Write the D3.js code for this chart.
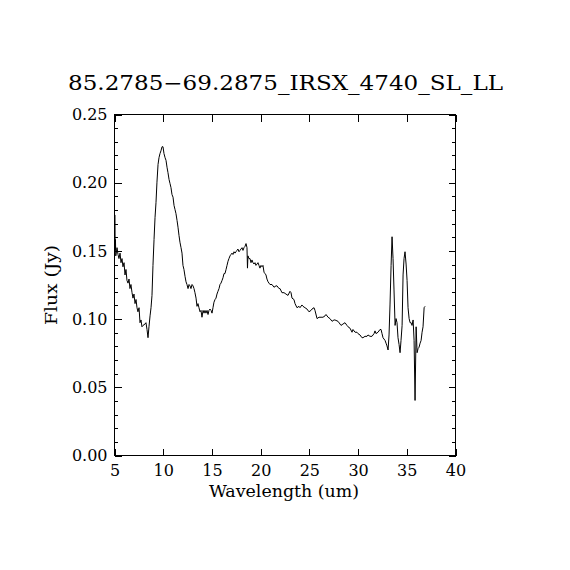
<!DOCTYPE html>
<html>
<head>
<meta charset="utf-8">
<script src="https://cdn.jsdelivr.net/npm/d3@7"></script>
<style>
html,body{margin:0;padding:0;background:#fff;}
svg{display:block;}
text{font-family:"DejaVu Serif","Liberation Serif",serif;fill:#000;}
</style>
</head>
<body>
<svg id="chart" width="570" height="570"></svg>
<script>
const title = "85.2785\u221269.2875_IRSX_4740_SL_LL";
const xLabel = "Wavelength (um)";
const yLabel = "Flux (Jy)";
const xTicks = [5, 10, 15, 20, 25, 30, 35, 40];
const yTicks = [0.00, 0.05, 0.10, 0.15, 0.20, 0.25];

const wavelength = [5.10,5.12,5.15,5.18,5.23,5.31,5.41,5.51,5.62,5.72,5.82,5.92,6.03,6.13,6.23,6.33,6.44,6.54,6.64,6.74,6.85,6.95,7.05,7.16,7.26,7.36,7.46,7.57,7.67,7.77,7.87,7.98,8.18,8.28,8.39,8.49,8.59,8.70,8.80,8.90,9.00,9.11,9.21,9.31,9.41,9.52,9.62,9.72,9.82,9.93,10.03,10.13,10.24,10.34,10.44,10.54,10.65,10.75,10.85,10.95,11.06,11.16,11.26,11.36,11.47,11.57,11.67,11.77,11.88,11.98,12.08,12.18,12.29,12.39,12.49,12.60,12.70,12.80,12.90,13.01,13.11,13.21,13.31,13.42,13.52,13.62,13.72,13.83,13.93,14.03,14.14,14.24,14.34,14.44,14.55,14.65,14.75,14.85,14.96,15.06,15.16,15.26,15.37,15.47,15.57,15.67,15.78,15.88,15.98,16.09,16.19,16.29,16.39,16.50,16.60,16.70,16.80,16.91,17.01,17.11,17.21,17.32,17.42,17.52,17.62,17.72,17.83,17.93,18.03,18.14,18.24,18.34,18.45,18.55,18.65,18.70,18.75,18.85,18.96,19.06,19.16,19.27,19.37,19.47,19.57,19.68,19.78,19.88,19.98,20.09,20.19,20.29,20.40,20.50,20.60,20.70,20.81,20.91,21.01,21.22,21.42,21.63,21.73,21.94,22.04,22.24,22.45,22.65,22.86,23.06,23.17,23.27,23.47,23.58,23.78,23.99,24.09,24.29,24.40,24.60,24.81,25.01,25.22,25.32,25.53,25.63,25.84,26.04,26.25,26.45,26.66,26.76,26.97,27.17,27.38,27.58,27.68,27.99,28.20,28.30,28.50,28.71,28.91,29.02,29.22,29.43,29.53,29.74,29.94,30.04,30.25,30.45,30.56,30.76,30.97,31.07,31.28,31.48,31.69,31.79,31.89,32.10,32.30,32.41,32.51,32.61,32.82,32.92,33.02,33.13,33.23,33.33,33.44,33.54,33.64,33.74,33.85,33.95,34.05,34.15,34.26,34.36,34.46,34.57,34.67,34.77,34.87,34.98,35.08,35.18,35.29,35.39,35.49,35.59,35.70,35.80,35.90,36.01,36.11,36.21,36.31,36.42,36.52,36.62,36.72,36.83,36.93];
const flux = [0.176,0.150,0.158,0.146,0.148,0.152,0.147,0.144,0.148,0.141,0.144,0.138,0.141,0.132,0.136,0.128,0.126,0.129,0.122,0.125,0.119,0.115,0.118,0.111,0.114,0.108,0.105,0.108,0.097,0.099,0.094,0.095,0.096,0.097,0.092,0.086,0.094,0.102,0.108,0.117,0.139,0.158,0.174,0.185,0.200,0.213,0.218,0.221,0.223,0.226,0.226,0.221,0.218,0.216,0.211,0.207,0.202,0.199,0.196,0.191,0.189,0.183,0.180,0.177,0.172,0.167,0.161,0.156,0.152,0.148,0.139,0.136,0.131,0.127,0.125,0.122,0.125,0.124,0.122,0.125,0.124,0.122,0.119,0.115,0.109,0.111,0.108,0.105,0.106,0.101,0.106,0.104,0.106,0.104,0.106,0.103,0.106,0.107,0.106,0.104,0.108,0.112,0.114,0.115,0.118,0.120,0.122,0.125,0.126,0.128,0.130,0.133,0.133,0.136,0.139,0.142,0.144,0.146,0.147,0.148,0.147,0.149,0.148,0.149,0.150,0.151,0.149,0.150,0.151,0.152,0.150,0.152,0.153,0.155,0.152,0.137,0.146,0.144,0.144,0.141,0.143,0.141,0.140,0.141,0.139,0.140,0.141,0.139,0.137,0.139,0.138,0.139,0.134,0.133,0.132,0.129,0.127,0.126,0.125,0.125,0.123,0.124,0.124,0.122,0.122,0.119,0.119,0.118,0.117,0.120,0.119,0.115,0.114,0.111,0.108,0.109,0.108,0.110,0.109,0.108,0.107,0.105,0.106,0.107,0.108,0.106,0.100,0.101,0.101,0.101,0.102,0.103,0.101,0.100,0.098,0.099,0.099,0.098,0.096,0.095,0.096,0.097,0.095,0.094,0.093,0.090,0.092,0.090,0.090,0.089,0.088,0.086,0.086,0.087,0.087,0.088,0.087,0.087,0.089,0.091,0.089,0.090,0.092,0.092,0.089,0.086,0.084,0.082,0.080,0.077,0.088,0.110,0.139,0.160,0.144,0.121,0.095,0.100,0.097,0.086,0.081,0.075,0.084,0.095,0.132,0.144,0.149,0.140,0.128,0.108,0.100,0.097,0.097,0.095,0.099,0.084,0.040,0.094,0.075,0.078,0.079,0.082,0.084,0.090,0.094,0.108,0.109];

const svg = d3.select("#chart");
const pLeft = 114, pRight = 455, pTop = 114, pBottom = 455;
const x = d3.scaleLinear().domain([5, 40]).range([pLeft, pRight]);
const y = d3.scaleLinear().domain([0, 0.25]).range([pBottom, pTop]);
const majorLen = 7, minorLen = 3.5;

const g = svg.append("g");

// frame
g.append("rect").attr("x", pLeft + 0.5).attr("y", pTop + 0.5)
  .attr("width", pRight - pLeft).attr("height", pBottom - pTop)
  .attr("fill", "none").attr("stroke", "#000").attr("stroke-width", 1)
  .attr("shape-rendering", "crispEdges");

// bottom axis
g.append("g").attr("transform", `translate(0.5,${pBottom + 0.5})`)
  .call(d3.axisBottom(x).tickValues(xTicks).tickFormat(d3.format("d"))
    .tickSizeInner(-majorLen).tickSizeOuter(0).tickPadding(9));
// top axis (ticks only)
g.append("g").attr("transform", `translate(0.5,${pTop + 0.5})`)
  .call(d3.axisTop(x).tickValues(xTicks).tickFormat("")
    .tickSizeInner(-majorLen).tickSizeOuter(0));
// left axis
g.append("g").attr("transform", `translate(${pLeft + 0.5},0.5)`)
  .call(d3.axisLeft(y).tickValues(yTicks).tickFormat(d3.format(".2f"))
    .tickSizeInner(-majorLen).tickSizeOuter(0).tickPadding(7));
const yMinor = d3.range(0, 26).map(i => i / 100).filter((v, i) => i % 5 !== 0);
g.append("g").attr("transform", `translate(${pLeft + 0.5},0.5)`)
  .call(d3.axisLeft(y).tickValues(yMinor).tickFormat("").tickSizeInner(-minorLen).tickSizeOuter(0));
// right axis
g.append("g").attr("transform", `translate(${pRight + 0.5},0.5)`)
  .call(d3.axisRight(y).tickValues(yTicks).tickFormat("")
    .tickSizeInner(-majorLen).tickSizeOuter(0));
g.append("g").attr("transform", `translate(${pRight + 0.5},0.5)`)
  .call(d3.axisRight(y).tickValues(yMinor).tickFormat("").tickSizeInner(-minorLen).tickSizeOuter(0));

g.selectAll(".domain").remove();
g.selectAll(".tick line").attr("stroke", "#000").attr("shape-rendering", "crispEdges");
g.selectAll(".tick text").attr("font-family", "DejaVu Serif").attr("font-size", 16).attr("fill", "#000");

// spectrum
const line = d3.line().x((d, i) => x(wavelength[i])).y(d => y(d));
g.append("path").datum(flux)
  .attr("d", line).attr("fill", "none").attr("stroke", "#000").attr("stroke-width", 1);

// title
svg.append("text").attr("x", 285.5).attr("y", 90).attr("text-anchor", "middle")
  .attr("font-size", 20).attr("textLength", 435).attr("lengthAdjust", "spacingAndGlyphs")
  .text(title);
// x label
svg.append("text").attr("x", 284).attr("y", 497).attr("text-anchor", "middle")
  .attr("font-size", 16).attr("textLength", 150).attr("lengthAdjust", "spacingAndGlyphs")
  .text(xLabel);
// y label
svg.append("text").attr("transform", "translate(57,285) rotate(-90)").attr("text-anchor", "middle")
  .attr("font-size", 16).attr("textLength", 80).attr("lengthAdjust", "spacingAndGlyphs")
  .text(yLabel);
</script>
</body>
</html>
